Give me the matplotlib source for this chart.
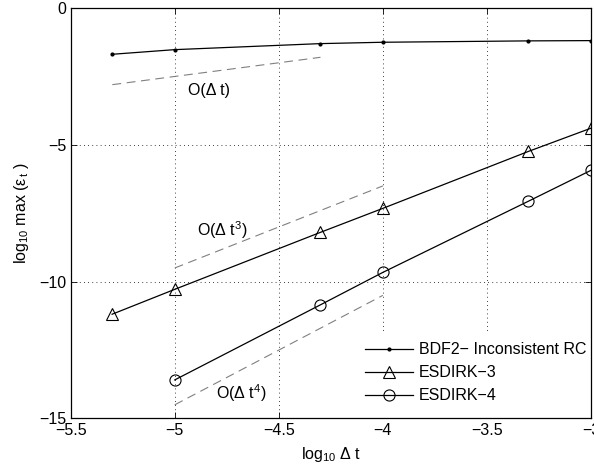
import numpy as np
import matplotlib
matplotlib.use("Agg")
import matplotlib.pyplot as plt
from matplotlib.patches import Rectangle

plt.rcParams['font.family'] = ['Liberation Sans', 'DejaVu Sans']
plt.rcParams['mathtext.fontset'] = 'custom'
plt.rcParams['mathtext.rm'] = 'Liberation Sans'
plt.rcParams['mathtext.it'] = 'Liberation Sans'

log_dt = [-5.301, -5.0, -4.301, -4.0, -3.301, -3.0]
bdf2 = [-1.69, -1.52, -1.30, -1.25, -1.20, -1.19]
esdirk3 = [-11.19, -10.28, -8.20, -7.32, -5.24, -4.39]
esdirk4_x = [-5.0, -4.301, -4.0, -3.301, -3.0]
esdirk4 = [-13.59, -10.85, -9.66, -7.06, -5.93]

ref1_x = [-5.3, -4.3]
ref1_y = [-2.80, -1.80]
ref3_x = [-5.0, -4.0]
ref3_y = [-9.5, -6.5]
ref4_x = [-5.0, -4.0]
ref4_y = [-14.5, -10.5]

fig = plt.figure(figsize=(5.94, 4.68), dpi=100)
ax = fig.add_axes([0.119, 0.1058, 0.876, 0.877])

fs = 11.5
l1, = ax.plot(log_dt, bdf2, '-', color='k', marker='.', markersize=4, lw=0.9,
              label='BDF2\u2212 Inconsistent RC')
l2, = ax.plot(log_dt, esdirk3, '-', color='k', marker='^', markersize=8, mfc='none',
              mew=0.8, lw=0.9, label='ESDIRK\u22123')
l3, = ax.plot(esdirk4_x, esdirk4, '-', color='k', marker='o', markersize=8, mfc='none',
              mew=0.8, lw=0.9, label='ESDIRK\u22124')

dash = dict(color='#808080', lw=0.8, dashes=(8, 5))
ax.plot(ref1_x, ref1_y, **dash)
ax.plot(ref3_x, ref3_y, **dash)
ax.plot(ref4_x, ref4_y, **dash)

ax.text(-4.937, -3.0, 'O(\u0394 t)', fontsize=fs, va='center', ha='left')
ax.text(-4.891, -8.12, 'O(\u0394 t$^3$)', fontsize=fs, va='center', ha='left')
ax.text(-4.80, -14.07, 'O(\u0394 t$^4$)', fontsize=fs, va='center', ha='left')

ax.set_xlim(-5.5, -3)
ax.set_ylim(-15, 0)
ax.set_xticks([-5.5, -5, -4.5, -4, -3.5, -3])
ax.set_xticklabels(['\u22125.5', '\u22125', '\u22124.5', '\u22124', '\u22123.5', '\u22123'])
ax.set_yticks([-15, -10, -5, 0])
ax.set_yticklabels(['\u221215', '\u221210', '\u22125', '0'])
ax.tick_params(direction='in', top=True, right=True, labelsize=fs, length=4, width=0.6, pad=3)
ax.grid(True, color='k', linestyle=(0, (1, 4)), lw=0.6)
for s in ax.spines.values():
    s.set_linewidth(0.9)

# white legend background covering the grid
ax.add_patch(Rectangle((0.55, 0.0), 0.45, 0.212, transform=ax.transAxes,
                       facecolor='white', edgecolor='none', zorder=1.8))

ax.set_xlabel('log$_{10}$ \u0394 t', fontsize=fs, labelpad=5)
ax.set_ylabel('log$_{10}$ max (\u03b5$_{\\,t}$ )', fontsize=fs, labelpad=6)

leg = ax.legend(handles=[l1, l2, l3], loc='lower left', bbox_to_anchor=(0.566, 0.037),
                fontsize=fs, frameon=False, handlelength=3.0,
                borderaxespad=0.0, borderpad=0.0, handletextpad=0.35, labelspacing=0.5)

fig.savefig('out.png', dpi=100)
